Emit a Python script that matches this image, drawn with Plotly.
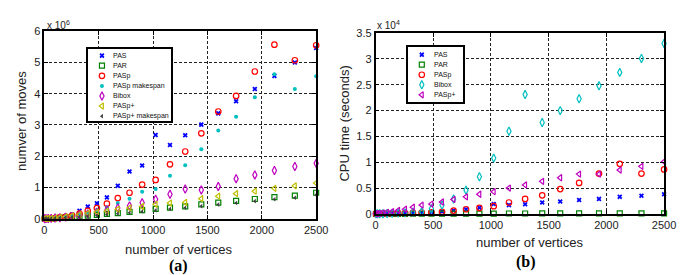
import plotly.graph_objects as go

# ---------------- data ----------------
vertices = [4, 16, 36, 64, 100, 144, 196, 256, 324, 400, 484, 576, 676, 784,
            900, 1024, 1156, 1296, 1444, 1600, 1764, 1936, 2116, 2304, 2500]

# (a) number of moves, units of 1e6
moves_pas = [0.0, 0.002, 0.005, 0.012, 0.025, 0.045, 0.08, 0.13, 0.25, 0.39, 0.49, 0.68,
             1.05, 1.51, 1.70, 2.68, 2.36, 2.67, 3.01, 3.37, 3.76, 4.15, 4.57, 5.00, 5.46]
moves_par = [0.0, 0.001, 0.004, 0.008, 0.015, 0.025, 0.04, 0.055, 0.07, 0.10, 0.12, 0.15,
             0.18, 0.22, 0.27, 0.31, 0.35, 0.39, 0.46, 0.51, 0.57, 0.63, 0.69, 0.74, 0.83]
moves_pasp = [0.0, 0.002, 0.004, 0.01, 0.02, 0.04, 0.06, 0.10, 0.16, 0.25, 0.34, 0.48,
              0.66, 0.83, 1.09, 1.24, 1.74, 2.15, 2.73, 3.43, 3.93, 4.71, 5.57, 5.07, 5.55]
moves_pasp_mk = [0.0, 0.002, 0.004, 0.01, 0.02, 0.04, 0.06, 0.09, 0.13, 0.20, 0.28, 0.36,
                 0.50, 0.64, 0.86, 0.95, 1.37, 1.71, 2.22, 2.82, 3.26, 3.89, 4.62, 4.15, 4.56]
moves_bibox = [0.0, 0.002, 0.005, 0.01, 0.02, 0.03, 0.05, 0.07, 0.10, 0.15, 0.21, 0.28,
               0.34, 0.41, 0.51, 0.62, 0.78, 0.95, 0.92, 1.03, 1.28, 1.40, 1.54, 1.67, 1.77]
moves_paspplus = [0.0, 0.002, 0.005, 0.01, 0.02, 0.04, 0.06, 0.09, 0.13, 0.17, 0.21, 0.24,
                  0.30, 0.34, 0.39, 0.46, 0.50, 0.52, 0.64, 0.72, 0.80, 0.88, 0.97, 1.05, 1.14]
moves_paspplus_mk = [0.0, 0.001, 0.003, 0.006, 0.012, 0.02, 0.03, 0.045, 0.06, 0.08, 0.10, 0.13,
                     0.16, 0.19, 0.23, 0.27, 0.31, 0.35, 0.40, 0.45, 0.50, 0.56, 0.62, 0.67, 0.76]

# (b) CPU time, units of 1e4 seconds
cpu_pas = [0.0, 0.0, 0.001, 0.002, 0.003, 0.005, 0.008, 0.012, 0.018, 0.025, 0.035, 0.045,
           0.065, 0.09, 0.12, 0.19, 0.17, 0.185, 0.22, 0.24, 0.27, 0.29, 0.33, 0.35, 0.38]
cpu_par = [0.0, 0.0, 0.0, 0.001, 0.001, 0.001, 0.002, 0.002, 0.003, 0.003, 0.004, 0.004,
           0.005, 0.005, 0.006, 0.006, 0.007, 0.007, 0.008, 0.008, 0.009, 0.009, 0.010, 0.010, 0.011]
cpu_pasp = [0.0, 0.0, 0.001, 0.002, 0.003, 0.005, 0.008, 0.012, 0.018, 0.025, 0.03, 0.04,
            0.065, 0.09, 0.115, 0.15, 0.22, 0.29, 0.36, 0.48, 0.60, 0.78, 0.97, 0.78, 0.86]
cpu_bibox = [0.0, 0.001, 0.002, 0.004, 0.006, 0.01, 0.015, 0.02, 0.03, 0.04, 0.10, 0.17,
             0.29, 0.46, 0.72, 1.08, 1.60, 2.31, 1.77, 2.00, 2.23, 2.48, 2.74, 3.01, 3.30]
cpu_paspplus = [0.002, 0.005, 0.01, 0.02, 0.03, 0.045, 0.065, 0.09, 0.13, 0.17, 0.19, 0.23,
                0.28, 0.33, 0.38, 0.43, 0.50, 0.56, 0.63, 0.70, 0.77, 0.77, 0.85, 0.92, 1.01]

x_ticks = [0, 500, 1000, 1500, 2000, 2500]
moves_ticks = [0, 1, 2, 3, 4, 5, 6]
cpu_ticks = [0, 0.5, 1, 1.5, 2, 2.5, 3, 3.5]

# ---------------- styles ----------------
BLUE, GREEN, RED = "#0000ff", "#008000", "#ff0000"
CYAN, MAGENTA, OLIVE, DARK = "#00bfbf", "#bf00bf", "#bfbf00", "#404040"

def mk(symbol, color, size, lw=1.2):
    return dict(symbol=symbol, color=color, size=size, line=dict(color=color, width=lw))

series_a = [
    ("PAS", moves_pas, mk("x", BLUE, 4.5, 0)),
    ("PAR", moves_par, mk("square-open", GREEN, 5)),
    ("PASp", moves_pasp, mk("circle-open", RED, 5.5)),
    ("PASp makespan", moves_pasp_mk, mk("circle", CYAN, 4, 0)),
    ("Bibox", moves_bibox, mk("diamond-tall-open", MAGENTA, 6)),
    ("PASp+", moves_paspplus, mk("triangle-left-open", OLIVE, 5.5)),
    ("PASp+ makespan", moves_paspplus_mk, mk("triangle-left", DARK, 4, 0)),
]
series_b = [
    ("PAS", cpu_pas, mk("x", BLUE, 4.5, 0)),
    ("PAR", cpu_par, mk("square-open", GREEN, 5)),
    ("PASp", cpu_pasp, mk("circle-open", RED, 5.5)),
    ("Bibox", cpu_bibox, mk("diamond-tall-open", CYAN, 6)),
    ("PASp+", cpu_paspplus, mk("triangle-left-open", MAGENTA, 5.5)),
]

W, H = 685, 275
FONT = "Liberation Sans"

def px(x):
    return x / W

def py(y):
    return 1 - y / H

fig = go.Figure()

for name, vals, marker in series_a:
    fig.add_trace(go.Scatter(x=vertices, y=vals, mode="markers", name=name, marker=marker,
                             xaxis="x", yaxis="y", cliponaxis=False, showlegend=False))
for name, vals, marker in series_b:
    fig.add_trace(go.Scatter(x=vertices, y=vals, mode="markers", name=name, marker=marker,
                             xaxis="x2", yaxis="y2", cliponaxis=False, showlegend=False))

# ---------------- custom compact legends ----------------
annotations = []

def add_legend(series, xa, ya, row0, row_step, mx, tx):
    for i, (name, _, marker) in enumerate(series):
        ry = row0 + i * row_step
        fig.add_trace(go.Scatter(x=[mx], y=[ry], mode="markers", marker=marker,
                                 xaxis=xa, yaxis=ya, showlegend=False, hoverinfo="skip",
                                 cliponaxis=False))
        annotations.append(dict(x=tx, y=ry, xref=xa, yref=ya, text=name, showarrow=False,
                                xanchor="left", yanchor="middle", borderpad=0,
                                font=dict(family=FONT, size=7, color="#111")))

add_legend(series_a, "x3", "y3", 43.5, 10.55, 93, 103)
add_legend(series_b, "x4", "y4", 42.5, 10.5, 420, 431)

axis_common = dict(showgrid=True, gridcolor="#222", griddash="3px,2px", gridwidth=1,
                   showline=True, linecolor="black", linewidth=1.5, mirror="ticks",
                   ticks="inside", ticklen=4, tickcolor="black", zeroline=False,
                   tickfont=dict(family=FONT, size=11, color="#222"), fixedrange=True)
legend_axis = dict(showgrid=False, zeroline=False, showticklabels=False, ticks="",
                   showline=True, linecolor="black", linewidth=1.5, mirror=True, fixedrange=True)

fig.update_layout(
    width=W, height=H, margin=dict(l=0, r=0, t=0, b=0),
    paper_bgcolor="white", plot_bgcolor="white", showlegend=False,
    xaxis=dict(axis_common, domain=[px(34), px(312)], range=[0, 2500], tickvals=x_ticks,
               anchor="y"),
    yaxis=dict(axis_common, domain=[py(214), py(18)], range=[0, 6], tickvals=moves_ticks,
               anchor="x"),
    xaxis2=dict(axis_common, domain=[px(372.7), px(667.7)], range=[0, 2500], tickvals=x_ticks,
                anchor="y2"),
    yaxis2=dict(axis_common, domain=[py(209), py(20)], range=[0, 3.5], tickvals=cpu_ticks,
                anchor="x2"),
    xaxis3=dict(legend_axis, domain=[px(79), px(164)], range=[79, 164], anchor="y3"),
    yaxis3=dict(legend_axis, domain=[py(112), py(37)], range=[112, 37], anchor="x3"),
    xaxis4=dict(legend_axis, domain=[px(406), px(462)], range=[406, 462], anchor="y4"),
    yaxis4=dict(legend_axis, domain=[py(92), py(34)], range=[92, 34], anchor="x4"),
)

def note(text, x, y, size=13, angle=0, xanchor="center", family=FONT, color="#222"):
    annotations.append(dict(x=px(x), y=py(y), xref="paper", yref="paper", text=text,
                            showarrow=False, xanchor=xanchor, yanchor="middle",
                            textangle=angle, font=dict(family=family, size=size, color=color)))

note("x 10<sup>6</sup>", 35, 12, size=10, xanchor="left")
note("x 10<sup>4</sup>", 372, 12, size=10, xanchor="left")
note("numver of moves", 10, 112, angle=-90)
note("CPU time (seconds)", 341, 115, angle=-90)
note("number of vertices", 171, 246)
note("number of vertices", 530, 239)
note("<b>(a)</b>", 171, 264, size=16, family="Liberation Serif", color="black")
note("<b>(b)</b>", 527, 259, size=16, family="Liberation Serif", color="black")

fig.update_layout(annotations=annotations)
fig.write_html("out.html")
